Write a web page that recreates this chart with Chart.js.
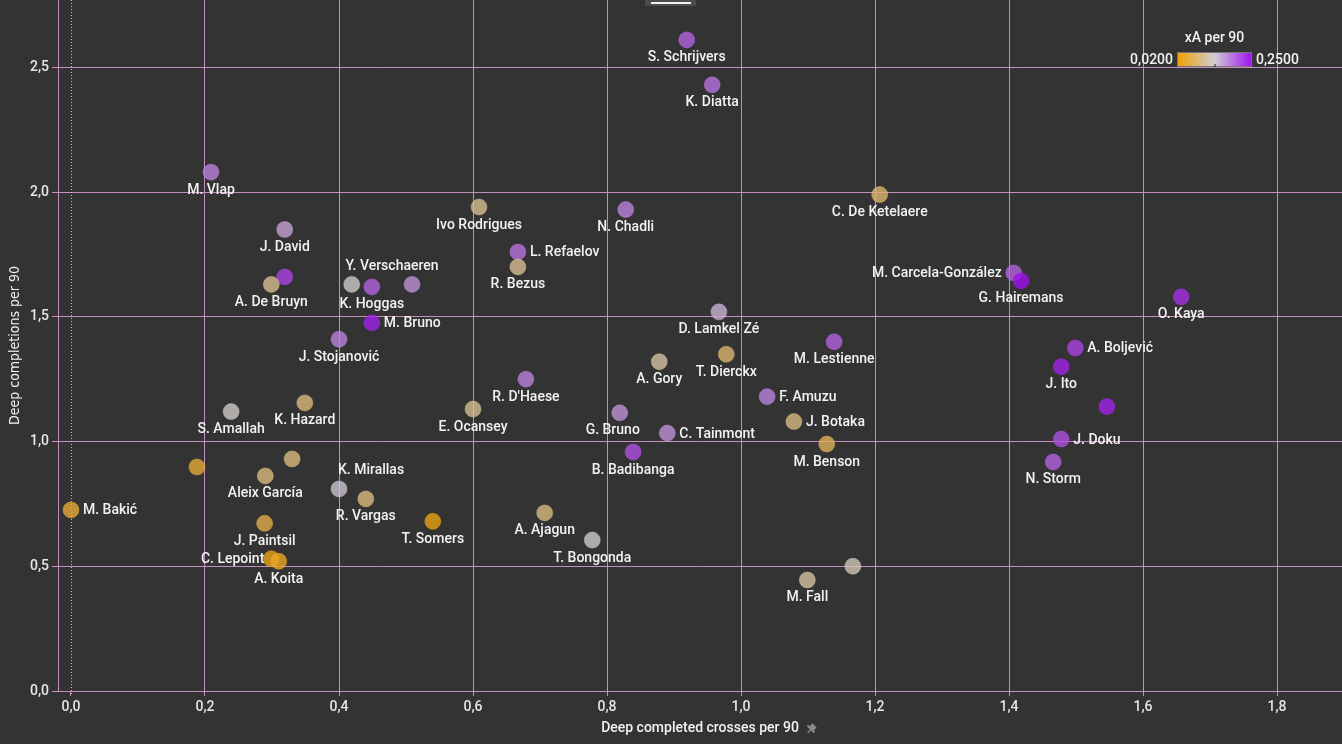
<!DOCTYPE html>
<html>
<head>
<meta charset="utf-8">
<script src="https://cdn.jsdelivr.net/npm/chart.js@4.4.0/dist/chart.umd.min.js"></script>
<style>
  html, body { margin: 0; padding: 0; background: #333333; }
  canvas { display: block; }
</style>
</head>
<body>
<canvas id="chart" width="1342" height="744"></canvas>
<script>
// players, deep completed crosses (x), deep completions (y), xA per 90 (colour)
const players = [
  "S. Schrijvers", "K. Diatta", "M. Vlap", "C. De Ketelaere", "Ivo Rodrigues", "N. Chadli",
  "J. David", "L. Refaelov", "R. Bezus", "", "A. De Bruyn", "", "K. Hoggas", "Y. Verschaeren",
  "M. Bruno", "J. Stojanović", "D. Lamkel Zé", "M. Carcela-González", "G. Hairemans", "O. Kaya",
  "A. Boljević", "J. Ito", "", "J. Doku", "N. Storm", "M. Lestienne", "T. Dierckx", "A. Gory",
  "F. Amuzu", "J. Botaka", "M. Benson", "R. D'Haese", "E. Ocansey", "G. Bruno", "C. Tainmont",
  "B. Badibanga", "S. Amallah", "K. Hazard", "", "", "Aleix García", "K. Mirallas", "R. Vargas",
  "T. Somers", "J. Paintsil", "C. Lepoint", "A. Koita", "M. Bakić", "A. Ajagun", "T. Bongonda",
  "M. Fall", ""
];
const crosses = [
  0.919, 0.957, 0.209, 1.207, 0.609, 0.828,
  0.319, 0.667, 0.667, 0.319, 0.299, 0.419, 0.449, 0.509,
  0.449, 0.400, 0.967, 1.407, 1.418, 1.657,
  1.499, 1.478, 1.546, 1.478, 1.466, 1.139, 0.978, 0.878,
  1.039, 1.079, 1.128, 0.679, 0.600, 0.819, 0.890,
  0.839, 0.239, 0.349, 0.188, 0.330, 0.290, 0.400, 0.440,
  0.540, 0.289, 0.299, 0.310, 0.000, 0.707, 0.778,
  1.099, 1.167
];
const completions = [
  2.61, 2.43, 2.08, 1.99, 1.94, 1.93,
  1.85, 1.76, 1.70, 1.66, 1.63, 1.63, 1.62, 1.63,
  1.476, 1.41, 1.52, 1.676, 1.644, 1.58,
  1.375, 1.30, 1.14, 1.01, 0.918, 1.40, 1.35, 1.32,
  1.18, 1.08, 0.99, 1.25, 1.13, 1.115, 1.034,
  0.958, 1.12, 1.155, 0.898, 0.93, 0.862, 0.81, 0.77,
  0.68, 0.672, 0.53, 0.52, 0.726, 0.714, 0.605,
  0.445, 0.50
];
const xA = [
  0.20, 0.19, 0.18, 0.08, 0.10, 0.18,
  0.16, 0.19, 0.10, 0.22, 0.10, 0.13, 0.20, 0.17,
  0.24, 0.18, 0.15, 0.20, 0.25, 0.23,
  0.22, 0.24, 0.24, 0.21, 0.20, 0.20, 0.08, 0.11,
  0.18, 0.09, 0.07, 0.18, 0.10, 0.17, 0.17,
  0.21, 0.13, 0.09, 0.05, 0.09, 0.09, 0.14, 0.09,
  0.03, 0.06, 0.03, 0.04, 0.05, 0.09, 0.13,
  0.11, 0.12
];
// where each name sits relative to its dot: b = below, a = above, r = right, l = left
const labelPos = [
  "b", "b", "b", "b", "b", "b",
  "b", "r", "b", "", "b", "", "b", "a",
  "r", "b", "b", "l", "b", "b",
  "r", "b", "", "r", "b", "b", "b", "b",
  "r", "r", "b", "b", "b", "b", "r",
  "b", "b", "b", "", "", "b", "a", "b",
  "b", "b", "l", "b", "r", "b", "b",
  "b", ""
];
const labelNudge = { "Y. Verschaeren": -20, "K. Mirallas": 32, "G. Bruno": -7, "C. Lepoint": 5 };

const xTicks = [0, 0.2, 0.4, 0.6, 0.8, 1.0, 1.2, 1.4, 1.6, 1.8];
const yTicks = [0, 0.5, 1.0, 1.5, 2.0, 2.5];
const xAMin = 0.02, xAMax = 0.25;

const FONT = "Roboto, 'DejaVu Sans', sans-serif";
const GRID = "#c68ebe";

// orange -> light grey -> purple
const stops = [[240, 160, 0], [208, 206, 210], [160, 16, 240]];
function xaColor(v, alpha) {
  let t = (v - xAMin) / (xAMax - xAMin);
  t = Math.max(0, Math.min(1, t));
  let a, b, f;
  if (t < 0.5) { a = stops[0]; b = stops[1]; f = t / 0.5; }
  else { a = stops[1]; b = stops[2]; f = (t - 0.5) / 0.5; }
  const c = a.map((x, i) => Math.round(x + (b[i] - x) * f));
  return "rgba(" + c[0] + "," + c[1] + "," + c[2] + "," + alpha + ")";
}

const points = crosses.map((x, i) => ({ x: x, y: completions[i] }));

const fmt = v => v.toFixed(1).replace(".", ",");

function noEdgePadding(s) {
  s.paddingTop = 0; s.paddingBottom = 0; s.paddingLeft = 0; s.paddingRight = 0;
}

const zeroLine = {
  id: "zeroLine",
  beforeDatasetsDraw(chart) {
    const { ctx, chartArea } = chart;
    const x = Math.round(chart.scales.x.getPixelForValue(0)) + 0.5;
    ctx.save();
    ctx.strokeStyle = "rgba(225,190,220,0.9)";
    ctx.lineWidth = 1;
    ctx.setLineDash([1, 2]);
    ctx.beginPath();
    ctx.moveTo(x, chartArea.top);
    ctx.lineTo(x, chartArea.bottom + 4);
    ctx.stroke();
    ctx.restore();
  }
};

const names = {
  id: "names",
  afterDatasetsDraw(chart) {
    const { ctx } = chart;
    const meta = chart.getDatasetMeta(0);
    ctx.save();
    ctx.font = "500 14px " + FONT;
    ctx.fillStyle = "#f2f2f2";
    ctx.textBaseline = "middle";
    meta.data.forEach((el, i) => {
      const name = players[i];
      if (!name) return;
      const pos = labelPos[i];
      const nudge = labelNudge[name] || 0;
      let x = el.x, y = el.y;
      if (pos === "b") { ctx.textAlign = "center"; x += nudge; y += 18; }
      else if (pos === "a") { ctx.textAlign = "center"; x += nudge; y -= 18; }
      else if (pos === "r") { ctx.textAlign = "left"; x += 12; y += 1; }
      else if (pos === "l") { ctx.textAlign = "right"; x -= 12 - nudge; y += 1; }
      ctx.fillText(name, x, y);
    });
    ctx.restore();
  }
};

const extras = {
  id: "extras",
  afterDraw(chart) {
    const { ctx } = chart;
    ctx.save();
    // colour legend
    const bx = 1177, by = 52, bw = 75, bh = 15;
    ctx.font = "500 14px " + FONT;
    ctx.fillStyle = "#f2f2f2";
    ctx.textAlign = "center";
    ctx.textBaseline = "middle";
    ctx.fillText("xA per 90", bx + bw / 2, 38);
    const g = ctx.createLinearGradient(bx, 0, bx + bw, 0);
    g.addColorStop(0, xaColor(xAMin, 1));
    g.addColorStop(0.5, xaColor((xAMin + xAMax) / 2, 1));
    g.addColorStop(1, xaColor(xAMax, 1));
    ctx.fillStyle = g;
    ctx.fillRect(bx, by, bw, bh);
    ctx.strokeStyle = "#777";
    ctx.lineWidth = 1;
    ctx.strokeRect(bx + 0.5, by + 0.5, bw - 1, bh - 1);
    ctx.strokeStyle = "#222";
    ctx.beginPath();
    ctx.moveTo(bx + bw / 2 + 0.5, by + bh - 3);
    ctx.lineTo(bx + bw / 2 + 0.5, by + bh);
    ctx.stroke();
    ctx.fillStyle = "#f2f2f2";
    ctx.textAlign = "right";
    ctx.fillText("0,0200", bx - 4, by + bh / 2 + 1);
    ctx.textAlign = "left";
    ctx.fillText("0,2500", bx + bw + 4, by + bh / 2 + 1);

    // small bar at top
    ctx.fillStyle = "#4c4c4c";
    ctx.fillRect(645, 0, 51, 6);
    ctx.fillStyle = "#f0f0f0";
    ctx.fillRect(651, 2, 40, 2);

    // pin glyph after x title
    ctx.translate(811, 729);
    ctx.rotate(Math.PI / 4);
    ctx.fillStyle = "#8a8a8a";
    ctx.fillRect(-3, -5, 6, 5);
    ctx.fillRect(-5, -1, 10, 2);
    ctx.fillRect(-0.5, 0, 1.5, 5);
    ctx.restore();
  }
};

new Chart(document.getElementById("chart"), {
  type: "scatter",
  data: {
    datasets: [{
      data: points,
      pointRadius: 8,
      pointHoverRadius: 8,
      pointBorderWidth: 1,
      backgroundColor: xA.map(v => xaColor(v, 0.78)),
      borderColor: xA.map(v => xaColor(v, 0.45))
    }]
  },
  options: {
    responsive: false,
    animation: false,
    devicePixelRatio: 1,
    layout: { padding: 0, autoPadding: false },
    plugins: { legend: { display: false }, tooltip: { enabled: false } },
    scales: {
      x: {
        type: "linear",
        min: -0.0194,
        max: 1.897,
        afterBuildTicks: s => { s.ticks = xTicks.map(v => ({ value: v })); },
        afterFit: s => { s.height = 53; noEdgePadding(s); },
        ticks: {
          color: "#e6e6e6",
          font: { family: FONT, size: 14, weight: "500" },
          padding: 3,
          maxRotation: 0,
          callback: v => fmt(v)
        },
        grid: {
          color: c => (c.tick && c.tick.value === 0) ? "rgba(0,0,0,0)" : GRID,
          tickColor: GRID,
          tickLength: 5,
          lineWidth: 1
        },
        border: { color: GRID },
        title: {
          display: true,
          text: "Deep completed crosses per 90",
          color: "#f2f2f2",
          font: { family: FONT, size: 14, weight: "500" },
          padding: { top: 7, bottom: 7 }
        }
      },
      y: {
        type: "linear",
        min: 0,
        max: 2.77,
        afterBuildTicks: s => { s.ticks = yTicks.map(v => ({ value: v })); },
        afterFit: s => { s.width = 58; noEdgePadding(s); },
        ticks: {
          color: "#e6e6e6",
          font: { family: FONT, size: 14, weight: "500" },
          padding: 3,
          callback: v => fmt(v)
        },
        grid: {
          color: GRID,
          tickColor: GRID,
          tickLength: 6,
          lineWidth: 1
        },
        border: { color: GRID },
        title: {
          display: true,
          text: "Deep completions per 90",
          color: "#f2f2f2",
          font: { family: "'DejaVu Sans Condensed', 'Liberation Sans Narrow', " + FONT, size: 14 },
          padding: { top: 7, bottom: 7 }
        }
      }
    }
  },
  plugins: [zeroLine, names, extras]
});
</script>
</body>
</html>
